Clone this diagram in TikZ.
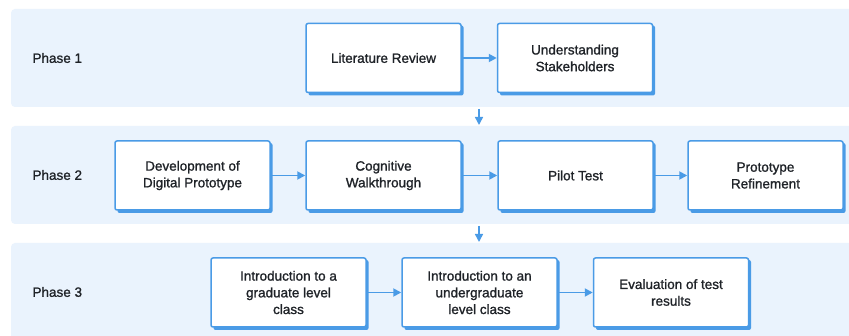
\documentclass[tikz,border=0pt]{standalone}
\usepackage{fontspec}
\setmainfont{Liberation Sans}
\newfontfamily\medfont[FakeBold=1.2]{Liberation Sans}
\usetikzlibrary{arrows.meta}
\definecolor{band}{HTML}{EAF3FD}
\definecolor{bl}{HTML}{4A9BE6}
\definecolor{txt}{HTML}{1F2328}
\begin{document}
\begin{tikzpicture}[x=1pt,y=-1pt,
  bandbox/.style={fill=band, draw=none, rounded corners=4pt},
  stepbox/.style={draw=bl, line width=1.5pt, fill=white, rounded corners=2pt,
    minimum width=155pt, minimum height=69pt, align=center, text=txt,
    font=\medfont\fontsize{13.5}{16.7}\selectfont},
  phaselbl/.style={anchor=west, text=txt, font=\medfont\fontsize{13.5}{16}\selectfont},
  conn/.style={draw=bl, line width=1.8pt, -{Triangle[length=8pt,width=8pt]}}]
\useasboundingbox (0,0) rectangle (849,336);
\fill[white] (0,0) rectangle (849,336);
% bands
\path[bandbox] (11,9) rectangle (853,107);
\path[bandbox] (11,126) rectangle (853,224);
\path[bandbox] (11,243) rectangle (853,340);
% phase labels
\node[phaselbl] (p1) at (29,58) {Phase 1};
\node[phaselbl] (p2) at (29,175) {Phase 2};
\node[phaselbl] (p3) at (29,292) {Phase 3};
% shadows
\foreach \cx/\cy in {383.5/58, 575/58, 192.5/175.5, 383.5/175.5, 575.5/175.5, 765.5/175.5, 288.5/292.5, 479.5/292.5, 671/292.5}{
  \fill[bl, rounded corners=2pt] (\cx-77.5+2.5,\cy-35+2.5) rectangle (\cx+77.5+2.5,\cy+35+2.5);
}
% boxes
\node[stepbox] (lit) at (383.5,58) {Literature Review};
\node[stepbox] (und) at (575,58) {Understanding\\Stakeholders};
\node[stepbox] (dev) at (192.5,175.5) {Development of\\Digital Prototype};
\node[stepbox] (cog) at (383.5,175.5) {Cognitive\\Walkthrough};
\node[stepbox] (pil) at (575.5,175.5) {Pilot Test};
\node[stepbox] (pro) at (765.5,175.5) {Prototype\\Refinement};
\node[stepbox] (gra) at (288.5,292.5) {Introduction to a\\graduate level\\class};
\node[stepbox] (ung) at (479.5,292.5) {Introduction to an\\undergraduate\\level class};
\node[stepbox] (eva) at (671,292.5) {Evaluation of test\\results};
% connectors
\draw[conn] (lit) -- (und);
\draw[conn] (dev) -- (cog);
\draw[conn] (cog) -- (pil);
\draw[conn] (pil) -- (pro);
\draw[conn] (gra) -- (ung);
\draw[conn] (ung) -- (eva);
\coordinate (d1a) at (479,109);
\coordinate (d1b) at (479,125);
\coordinate (d2a) at (479,226);
\coordinate (d2b) at (479,242);
\draw[conn, line width=1.5pt] (d1a) -- (d1b);
\draw[conn, line width=1.5pt] (d2a) -- (d2b);
\end{tikzpicture}
\end{document}
